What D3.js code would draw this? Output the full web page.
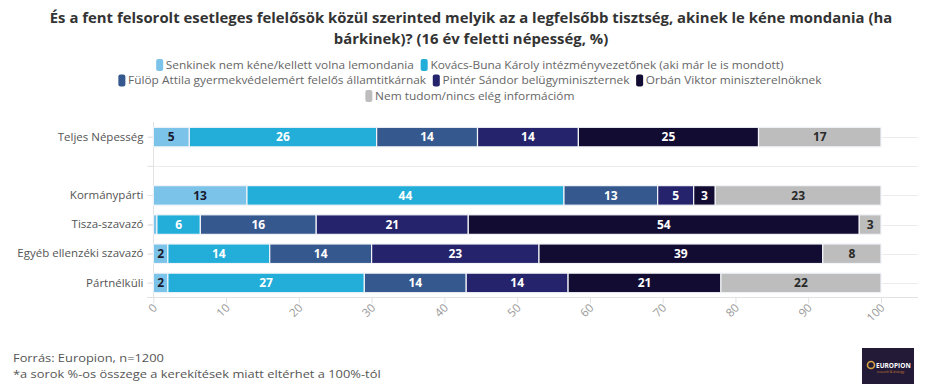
<!DOCTYPE html>
<html>
<head>
<meta charset="utf-8">
<script src="https://cdn.jsdelivr.net/npm/d3@7"></script>
<style>
  body { margin: 0; background: #fff; }
  svg { display: block; font-family: "Open Sans", "Noto Sans", sans-serif; }
</style>
</head>
<body>
<svg id="chart" width="946" height="391"></svg>
<script>
// ---- data ----
const titleLines = [
  "És a fent felsorolt esetleges felelősök közül szerinted melyik az a legfelsőbb tisztség, akinek le kéne mondania (ha",
  "bárkinek)? (16 év feletti népesség, %)"
];
const categories = ["Teljes Népesség", "Kormánypárti", "Tisza-szavazó", "Egyéb ellenzéki szavazó", "Pártnélküli"];
const seriesNames = [
  "Senkinek nem kéne/kellett volna lemondania",
  "Kovács-Buna Károly intézményvezetőnek (aki már le is mondott)",
  "Fülöp Attila gyermekvédelemért felelős államtitkárnak",
  "Pintér Sándor belügyminiszternek",
  "Orbán Viktor miniszterelnöknek",
  "Nem tudom/nincs elég információm"
];
const senkinek  = [5, 13, 0.5, 2, 2];
const kovacs    = [26, 44, 6, 14, 27];
const fulop     = [14, 13, 16, 14, 14];
const pinter    = [14, 5, 21, 23, 14];
const orban     = [25, 3, 54, 39, 21];
const nemTudom  = [17, 23, 3, 8, 22];
const xTicks = [0, 10, 20, 30, 40, 50, 60, 70, 80, 90, 100];
const sourceText = "Forrás: Europion, n=1200";
const noteText = "*a sorok %-os összege a kerekítések miatt eltérhet a 100%-tól";

const colors = ["#7cc3ea", "#22aed9", "#35588e", "#24236b", "#130c32", "#bdbdbd"];
const labelColors = ["#1a1a2e", "#ffffff", "#ffffff", "#ffffff", "#ffffff", "#2a2a2a"];
const legendRows = [[0, 1], [2, 3, 4], [5]];

// ---- build table ----
const seriesValues = [senkinek, kovacs, fulop, pinter, orban, nemTudom];
const keys = seriesNames;
const rows = categories.map((c, i) => {
  const r = { category: c };
  keys.forEach((k, j) => r[k] = seriesValues[j][i]);
  return r;
});
const stacked = d3.stack().keys(keys).offset(d3.stackOffsetExpand)(rows);

const svg = d3.select("#chart");

// ---- title (horizontally condensed to match reference width) ----
const tg = svg.append("g").attr("font-weight", 700).attr("fill", "#333").attr("font-size", 15).attr("text-anchor", "middle");
const t1 = tg.append("text").attr("x", 0).attr("y", 23).text(titleLines[0]);
const w1 = t1.node().getComputedTextLength();
const sx = Math.min(1, 843 / w1);
tg.attr("transform", `translate(471,0) scale(${sx},1)`);
tg.append("text").attr("x", 0).attr("y", 44).text(titleLines[1]);

// ---- legend ----
const legendY = [65, 80.5, 96];
legendRows.forEach((row, ri) => {
  const g = svg.append("g").attr("font-size", 11).attr("fill", "#666");
  let x = 0;
  row.forEach(si => {
    g.append("rect").attr("x", x).attr("y", legendY[ri] - 6).attr("width", 6.5).attr("height", 12)
      .attr("rx", 2).attr("fill", colors[si]);
    const t = g.append("text").attr("x", x + 9).attr("y", legendY[ri]).attr("dy", "0.35em").text(seriesNames[si]);
    x += 9 + t.node().getComputedTextLength() + 6;
  });
  const w = x - 6;
  const s = 1.08;
  g.attr("transform", `translate(${470 - (w * s) / 2},0) scale(${s},1)`);
});

// ---- scales ----
const bandDomain = [categories[0], "__gap__", ...categories.slice(1)];
const y = d3.scaleBand().domain(bandDomain).range([122.5, 297.5]).paddingInner(0.33).paddingOuter(0.165);
const x = d3.scaleLinear().domain([0, 100]).range([153.3, 881]);

// gridlines
const grid = svg.append("g").attr("stroke", "#ececec").attr("stroke-width", 1);
bandDomain.forEach(d => {
  const yy = Math.round(y(d) + y.bandwidth() / 2) + 0.5;
  grid.append("line").attr("x1", 147).attr("x2", 918).attr("y1", yy).attr("y2", yy);
});
grid.append("line").attr("x1", 147).attr("x2", 918).attr("y1", 297.5).attr("y2", 297.5).attr("stroke", "#e2e2e2");
grid.append("line").attr("x1", 153.5).attr("x2", 153.5).attr("y1", 122).attr("y2", 297.5).attr("stroke", "#e2e2e2");

// x axis
const xAxis = svg.append("g").attr("transform", "translate(0,297.5)")
  .call(d3.axisBottom(x).tickValues(xTicks).tickSize(6).tickFormat(d3.format("d")));
xAxis.select(".domain").remove();
xAxis.selectAll(".tick line").attr("stroke", "#e2e2e2");
xAxis.selectAll(".tick text")
  .attr("fill", "#999").attr("font-size", 11.5).attr("font-family", "Open Sans, sans-serif")
  .attr("text-anchor", "end").attr("dy", null).attr("y", null)
  .attr("transform", "translate(4,11) rotate(-45)");

// y axis
const yAxis = svg.append("g").attr("transform", "translate(153.5,0)")
  .call(d3.axisLeft(y).tickSize(5).tickFormat(d => d === "__gap__" ? "" : d));
yAxis.select(".domain").remove();
yAxis.selectAll(".tick line").attr("stroke", "#e2e2e2");
yAxis.selectAll(".tick text").attr("fill", "#555").attr("font-size", 11.5)
  .attr("font-family", "Open Sans, sans-serif").attr("x", -10);

// bars
const layers = svg.append("g").selectAll("g").data(stacked).join("g")
  .attr("fill", (d, i) => colors[i]);
layers.selectAll("rect").data(d => d).join("rect")
  .attr("x", d => x(d[0] * 100))
  .attr("y", d => y(d.data.category))
  .attr("width", d => Math.max(0, x(d[1] * 100) - x(d[0] * 100)))
  .attr("height", y.bandwidth())
  .attr("stroke", "#f2f4f8").attr("stroke-width", 1.2);

// labels
const lbl = svg.append("g").attr("font-weight", 700).attr("font-size", 12).attr("text-anchor", "middle");
stacked.forEach((layer, si) => {
  layer.forEach(d => {
    const v = d.data[layer.key];
    if (v < 1.5) return;
    lbl.append("text")
      .attr("x", (x(d[0] * 100) + x(d[1] * 100)) / 2)
      .attr("y", y(d.data.category) + y.bandwidth() / 2)
      .attr("dy", "0.36em")
      .attr("fill", labelColors[si])
      .text(v);
  });
});

// footer
const foot = svg.append("g").attr("fill", "#555").attr("font-size", 11.5)
  .attr("transform", "translate(13,0) scale(1.12,1)");
foot.append("text").attr("x", 0).attr("y", 362).text(sourceText);
foot.append("text").attr("x", 0).attr("y", 378).text(noteText);

// logo
const logo = svg.append("g").attr("transform", "translate(862,348)");
logo.append("rect").attr("width", 52).attr("height", 36).attr("fill", "#231a38");
logo.append("circle").attr("cx", 9).attr("cy", 17).attr("r", 3.5).attr("fill", "none").attr("stroke", "#d9a441").attr("stroke-width", 1.6);
logo.append("text").attr("x", 14).attr("y", 19.5).attr("fill", "#fff").attr("font-size", 6.5).attr("font-weight", 700).text("EUROPION");
logo.append("text").attr("x", 15).attr("y", 25).attr("fill", "#d9822b").attr("font-size", 3).text("research & strategy");
</script>
</body>
</html>
